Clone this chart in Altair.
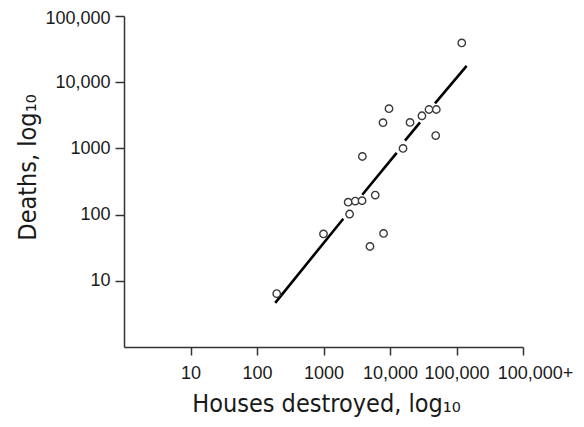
import altair as alt
import pandas as pd

# Scatter data (houses destroyed vs deaths)
houses = [198, 1000, 2350, 3000, 3800, 2470, 6000, 3840, 5000, 8000,
          7850, 9660, 15700, 20000, 30200, 38600, 49700, 48700, 120000]
deaths = [6.4, 51, 154, 160, 162, 102, 197, 755, 33, 52,
          2450, 3980, 1000, 2470, 3110, 3870, 3870, 1560, 39200]

# Fitted regression line, drawn as broken segments (start/end of each piece)
fit_x_start = [188, 3830, 16800, 47500]
fit_x_end = [1985, 12600, 28300, 142000]
fit_y_start = [4.65, 199.5, 1310, 4780]
fit_y_end = [86.7, 855, 2470, 17650]

x_tick_values = [10, 100, 1000, 10000, 100000, 1000000]
x_tick_labels = ["10", "100", "1000", "10,000", "100,000", "100,000+"]
y_tick_values = [10, 100, 1000, 10000, 100000]
y_tick_labels = ["10", "100", "1000", "10,000", "100,000"]

pts = pd.DataFrame({"houses": houses, "deaths": deaths})
fit = pd.DataFrame({"x1": fit_x_start, "x2": fit_x_end,
                    "y1": fit_y_start, "y2": fit_y_end})


def label_expr(values, labels):
    expr = "''"
    for v, l in zip(reversed(values), reversed(labels)):
        expr = f"datum.value == {v} ? '{l}' : ({expr})"
    return expr


FONT = "Liberation Sans"
TFONT = "Liberation Sans Narrow, DejaVu Sans Condensed, Liberation Sans"
TXT = "#1a1a1a"
AX = "#333333"

x_scale = alt.Scale(type="log", domain=[1, 1000000], nice=False)
y_scale = alt.Scale(type="log", domain=[1, 100000], nice=False)

x_axis = alt.Axis(
    values=x_tick_values,
    labelExpr=label_expr(x_tick_values, x_tick_labels),
    title="Houses destroyed, log₁₀",
    grid=False, labelOverlap=False, labelFlush=False, labelBound=False,
    tickSize=8, labelPadding=9,
    labelOffset={"condition": {"test": "datum.value >= 1000000", "value": 12}, "value": 0},
    titleX=202, titleY=64, titleBaseline="alphabetic", titleAlign="center",
)
y_axis = alt.Axis(
    values=y_tick_values,
    labelExpr=label_expr(y_tick_values, y_tick_labels),
    title="Deaths, log₁₀",
    grid=False, labelOverlap=False, labelFlush=False, labelBound=False,
    tickSize=9, labelPadding=5,
    labelOffset={"condition": {"test": "datum.value >= 100000", "value": 2}, "value": 0},
    titleX=-89, titleY=151, titleBaseline="alphabetic", titleAlign="center", titleAngle=270,
)

line = alt.Chart(fit).mark_rule(color="black", strokeWidth=2.6).encode(
    x=alt.X("x1:Q", scale=x_scale, axis=x_axis),
    x2="x2:Q",
    y=alt.Y("y1:Q", scale=y_scale, axis=y_axis),
    y2="y2:Q",
)
points = alt.Chart(pts).mark_point(shape="circle", fill="white", fillOpacity=1,
                                   stroke="#3a3a3a", size=55,
                                   strokeWidth=1.4, opacity=1).encode(
    x=alt.X("houses:Q", scale=x_scale),
    y=alt.Y("deaths:Q", scale=y_scale),
)

chart = alt.layer(line, points).properties(
    width=399, height=331,
    autosize=alt.AutoSizeParams(type="none"),
    padding={"left": 116, "top": 8, "right": 53, "bottom": 72},
).configure_view(stroke=None).configure_axis(
    domainColor=AX, tickColor=AX, domainWidth=1.5, tickWidth=1.5,
    labelFont=FONT, labelFontSize=18, labelColor=TXT,
    titleFont=TFONT, titleFontSize=25, titleColor=TXT, titleFontWeight="normal",
)

chart.save("out.html", embed_options={"renderer": "svg", "actions": False})
